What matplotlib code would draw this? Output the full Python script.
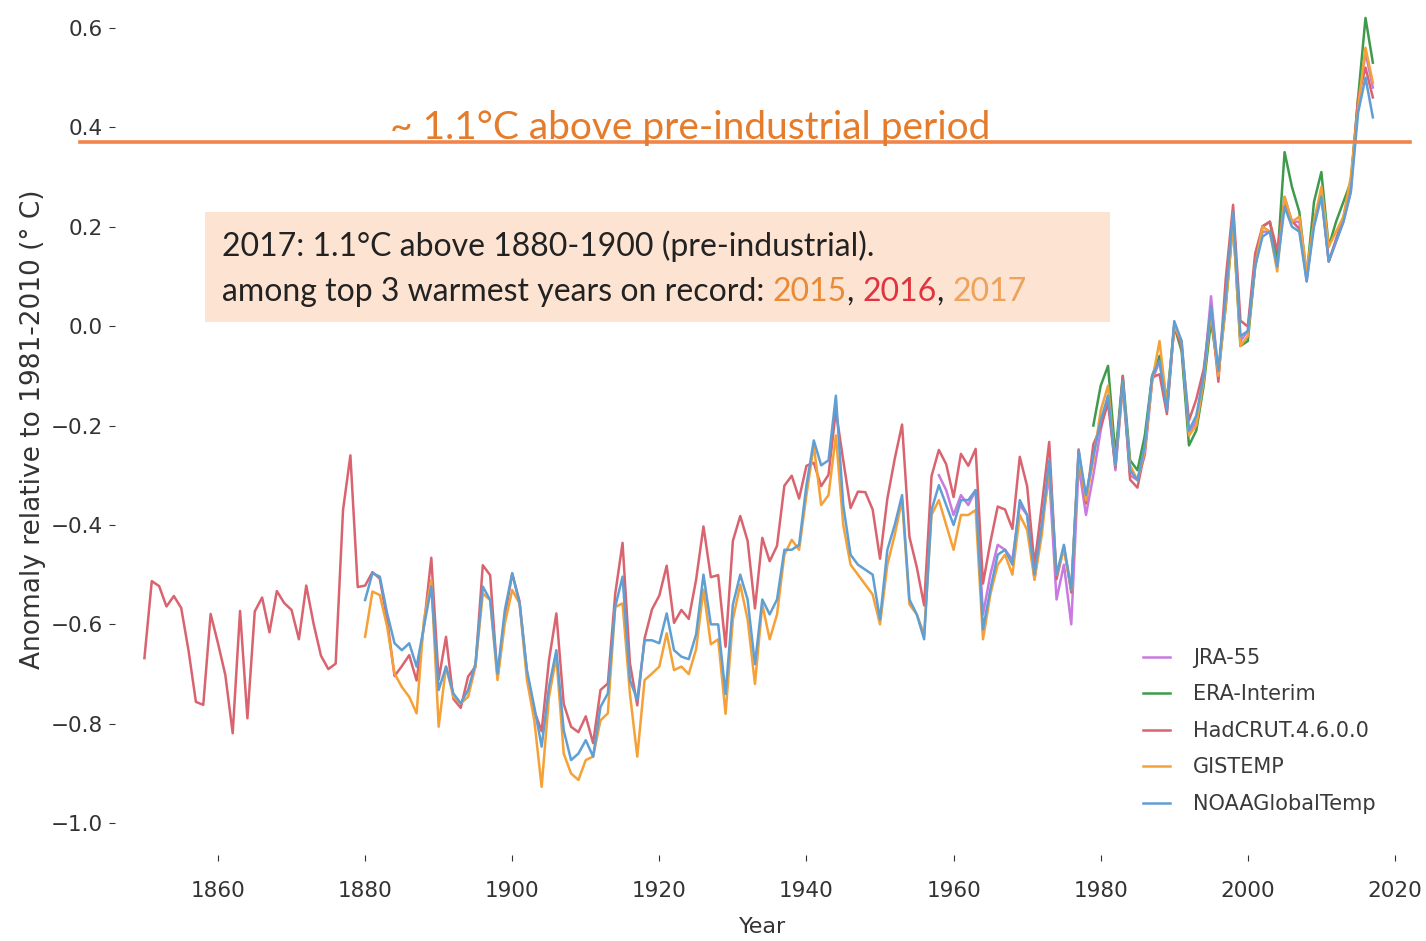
import numpy as np
import matplotlib
matplotlib.use("Agg")
import matplotlib.pyplot as plt
from matplotlib.patches import Rectangle

# ---------------- data ----------------
had_years = list(range(1850, 2018))
hadcrut = [
    -0.668, -0.513, -0.523, -0.564, -0.543, -0.567, -0.653, -0.756, -0.762, -0.579,
    -0.638, -0.702, -0.819, -0.573, -0.789, -0.574, -0.546, -0.616, -0.533, -0.557,
    -0.571, -0.630, -0.522, -0.599, -0.663, -0.690, -0.679, -0.370, -0.260, -0.525,
    -0.522, -0.495, -0.508, -0.591, -0.704, -0.684, -0.662, -0.713, -0.602, -0.466,
    -0.711, -0.625, -0.750, -0.768, -0.705, -0.685, -0.481, -0.501, -0.707, -0.584,
    -0.498, -0.554, -0.697, -0.774, -0.815, -0.672, -0.578, -0.760, -0.806, -0.817,
    -0.785, -0.839, -0.732, -0.719, -0.539, -0.436, -0.678, -0.763, -0.628, -0.570,
    -0.542, -0.482, -0.597, -0.571, -0.589, -0.510, -0.403, -0.505, -0.501, -0.645,
    -0.432, -0.382, -0.432, -0.568, -0.426, -0.473, -0.442, -0.321, -0.301, -0.347,
    -0.281, -0.275, -0.322, -0.299, -0.170, -0.270, -0.366, -0.333, -0.334, -0.369,
    -0.468, -0.347, -0.267, -0.198, -0.424, -0.485, -0.562, -0.302, -0.249, -0.278,
    -0.344, -0.257, -0.281, -0.247, -0.518, -0.435, -0.363, -0.369, -0.408, -0.263,
    -0.322, -0.481, -0.360, -0.233, -0.509, -0.444, -0.536, -0.248, -0.357, -0.238,
    -0.203, -0.155, -0.284, -0.101, -0.309, -0.325, -0.250, -0.103, -0.097, -0.177,
    0.001, -0.041, -0.190, -0.147, -0.087, 0.030, -0.112, 0.095, 0.244, 0.011,
    -0.001, 0.146, 0.201, 0.210, 0.152, 0.250, 0.211, 0.196, 0.100, 0.211,
    0.265, 0.130, 0.175, 0.219, 0.284, 0.460, 0.520, 0.460,
]

std_years = list(range(1880, 2018))
gistemp = [
    -0.625, -0.534, -0.541, -0.605, -0.699, -0.726, -0.746, -0.779, -0.591, -0.511,
    -0.806, -0.685, -0.746, -0.759, -0.746, -0.685, -0.538, -0.551, -0.712, -0.598,
    -0.531, -0.558, -0.712, -0.793, -0.927, -0.746, -0.665, -0.860, -0.900, -0.913,
    -0.873, -0.866, -0.793, -0.779, -0.565, -0.558, -0.739, -0.866, -0.712, -0.699,
    -0.685, -0.618, -0.692, -0.685, -0.700, -0.650, -0.530, -0.640, -0.630, -0.780,
    -0.590, -0.520, -0.590, -0.720, -0.560, -0.630, -0.580, -0.460, -0.430, -0.450,
    -0.340, -0.240, -0.360, -0.340, -0.220, -0.400, -0.480, -0.500, -0.520, -0.540,
    -0.600, -0.480, -0.420, -0.350, -0.560, -0.580, -0.620, -0.380, -0.350, -0.400,
    -0.450, -0.380, -0.380, -0.370, -0.630, -0.540, -0.480, -0.460, -0.500, -0.380,
    -0.410, -0.510, -0.420, -0.280, -0.500, -0.450, -0.530, -0.260, -0.350, -0.270,
    -0.170, -0.120, -0.280, -0.120, -0.280, -0.310, -0.250, -0.110, -0.030, -0.160,
    0.000, -0.030, -0.220, -0.200, -0.110, 0.030, -0.100, 0.040, 0.210, -0.040,
    -0.020, 0.120, 0.200, 0.190, 0.110, 0.260, 0.210, 0.220, 0.110, 0.210,
    0.280, 0.160, 0.190, 0.220, 0.300, 0.440, 0.560, 0.490,
]
noaa = [
    -0.551, -0.497, -0.504, -0.578, -0.638, -0.652, -0.638, -0.685, -0.605, -0.524,
    -0.732, -0.685, -0.739, -0.759, -0.732, -0.679, -0.524, -0.551, -0.699, -0.571,
    -0.497, -0.558, -0.692, -0.766, -0.846, -0.726, -0.652, -0.813, -0.873, -0.860,
    -0.833, -0.866, -0.766, -0.739, -0.565, -0.504, -0.712, -0.752, -0.632, -0.632,
    -0.638, -0.578, -0.652, -0.665, -0.670, -0.620, -0.500, -0.600, -0.600, -0.740,
    -0.560, -0.500, -0.550, -0.680, -0.550, -0.580, -0.550, -0.450, -0.450, -0.440,
    -0.320, -0.230, -0.280, -0.270, -0.140, -0.360, -0.460, -0.480, -0.490, -0.500,
    -0.590, -0.450, -0.400, -0.340, -0.550, -0.580, -0.630, -0.370, -0.320, -0.360,
    -0.400, -0.350, -0.350, -0.330, -0.610, -0.530, -0.460, -0.450, -0.480, -0.350,
    -0.380, -0.500, -0.400, -0.270, -0.500, -0.440, -0.530, -0.250, -0.340, -0.260,
    -0.190, -0.140, -0.280, -0.110, -0.290, -0.310, -0.240, -0.100, -0.070, -0.170,
    0.010, -0.030, -0.210, -0.180, -0.100, 0.040, -0.090, 0.060, 0.230, -0.020,
    -0.010, 0.120, 0.180, 0.190, 0.120, 0.240, 0.200, 0.190, 0.090, 0.200,
    0.260, 0.130, 0.170, 0.210, 0.270, 0.430, 0.500, 0.420,
]

jra_years = list(range(1958, 2018))
jra55 = [
    -0.300, -0.330, -0.380, -0.340, -0.360, -0.330, -0.580, -0.500, -0.440, -0.450,
    -0.470, -0.360, -0.380, -0.510, -0.400, -0.300, -0.550, -0.480, -0.600, -0.280,
    -0.380, -0.300, -0.210, -0.140, -0.290, -0.120, -0.300, -0.310, -0.260, -0.110,
    -0.070, -0.170, 0.000, -0.040, -0.220, -0.190, -0.100, 0.060, -0.100, 0.050,
    0.230, -0.030, -0.010, 0.130, 0.190, 0.190, 0.130, 0.260, 0.210, 0.210,
    0.090, 0.210, 0.270, 0.130, 0.170, 0.210, 0.270, 0.450, 0.550, 0.480,
]

era_years = list(range(1979, 2018))
era_interim = [
    -0.200, -0.120, -0.080, -0.260, -0.100, -0.270, -0.290, -0.220, -0.100, -0.060,
    -0.150, 0.000, -0.050, -0.240, -0.210, -0.120, 0.010, -0.090, 0.040, 0.210,
    -0.040, -0.030, 0.120, 0.200, 0.210, 0.130, 0.350, 0.280, 0.230, 0.100,
    0.250, 0.310, 0.160, 0.210, 0.250, 0.290, 0.460, 0.620, 0.530,
]

series_labels = ["JRA-55", "ERA-Interim", "HadCRUT.4.6.0.0", "GISTEMP", "NOAAGlobalTemp"]
series_colors = ["#c97ae0", "#3f9b4c", "#d9636f", "#f5a137", "#5f9fd4"]

preindustrial_level = 0.37
y_ticks = [0.6, 0.4, 0.2, 0.0, -0.2, -0.4, -0.6, -0.8, -1.0]
x_ticks = [1860, 1880, 1900, 1920, 1940, 1960, 1980, 2000, 2020]

# ---------------- figure ----------------
W, H = 1426, 941
fig = plt.figure(figsize=(W / 100, H / 100), dpi=100)
fig.patch.set_facecolor("white")
ax = fig.add_axes([115 / W, 1 - 855 / H, (1410 - 115) / W, (855 - 3) / H])

data = [(jra_years, jra55), (era_years, era_interim), (had_years, hadcrut),
        (std_years, gistemp), (std_years, noaa)]
for (xs, ys), lab, col in zip(data, series_labels, series_colors):
    ax.plot(xs, ys, color=col, lw=1.8, label=lab)

ax.set_xlim(1846.0, 2022.05)
ax.set_ylim(-1.064, 0.650)
ax.set_xticks(x_ticks)
ax.set_yticks(y_ticks)
ax.set_yticklabels([f"{v:.1f}".replace("-", "\u2212") for v in y_ticks])
for s in ax.spines.values():
    s.set_visible(False)
ax.tick_params(axis="both", labelsize=15.5, colors="#333333", length=4, width=0.8)
ax.tick_params(axis="y", pad=5)
ax.tick_params(axis="x", pad=15)
ax.set_xlabel("Year", fontsize=16, color="#333333", labelpad=11)
ax.set_ylabel("Anomaly relative to 1981-2010 (° C)", fontsize=19, color="#333333",
              labelpad=3)

leg = ax.legend(loc="upper left", bbox_to_anchor=(1143 / W, 1 - 648 / H),
                bbox_transform=fig.transFigure, frameon=False, borderpad=0,
                borderaxespad=0, fontsize=15, handlelength=1.3, handletextpad=1.1,
                labelspacing=0.79, labelcolor="#3a3a3a")

# pre-industrial reference line (extends to the left of the axes)
ax.axhline(preindustrial_level, xmin=(80 - 115) / (1410 - 115), xmax=1.0,
           color="#f0844a", lw=2.6, clip_on=False, zorder=5)
ax.text(1883.4, preindustrial_level + 0.006, "~ 1.1°C above pre-industrial period",
        fontsize=28, color="#e57c2b", family="Lato",
        va="baseline", ha="left", zorder=6)

# annotation box
fig.add_artist(Rectangle((205 / W, 1 - 322 / H), 905 / W, 110 / H,
                         transform=fig.transFigure, facecolor="#fce3d2",
                         edgecolor="none", zorder=4))
fig.text(222 / W, 1 - 256 / H, "2017: 1.1°C above 1880-1900 (pre-industrial).",
         fontsize=23, family="Lato", color="#222222", va="baseline", zorder=6)

pieces = [("among top 3 warmest years on record: ", "#222222"),
          ("2015", "#ea8a35"), (", ", "#222222"),
          ("2016", "#e0333f"), (", ", "#222222"),
          ("2017", "#eea25a")]
renderer = fig.canvas.get_renderer()
xpos = 222 / W
for txt, col in pieces:
    t = fig.text(xpos, 1 - 301 / H, txt, fontsize=23, family="Lato", color=col,
                 va="baseline", zorder=6)
    bb = t.get_window_extent(renderer=renderer)
    xpos += bb.width / W

fig.savefig("out.png", dpi=100, facecolor="white")
